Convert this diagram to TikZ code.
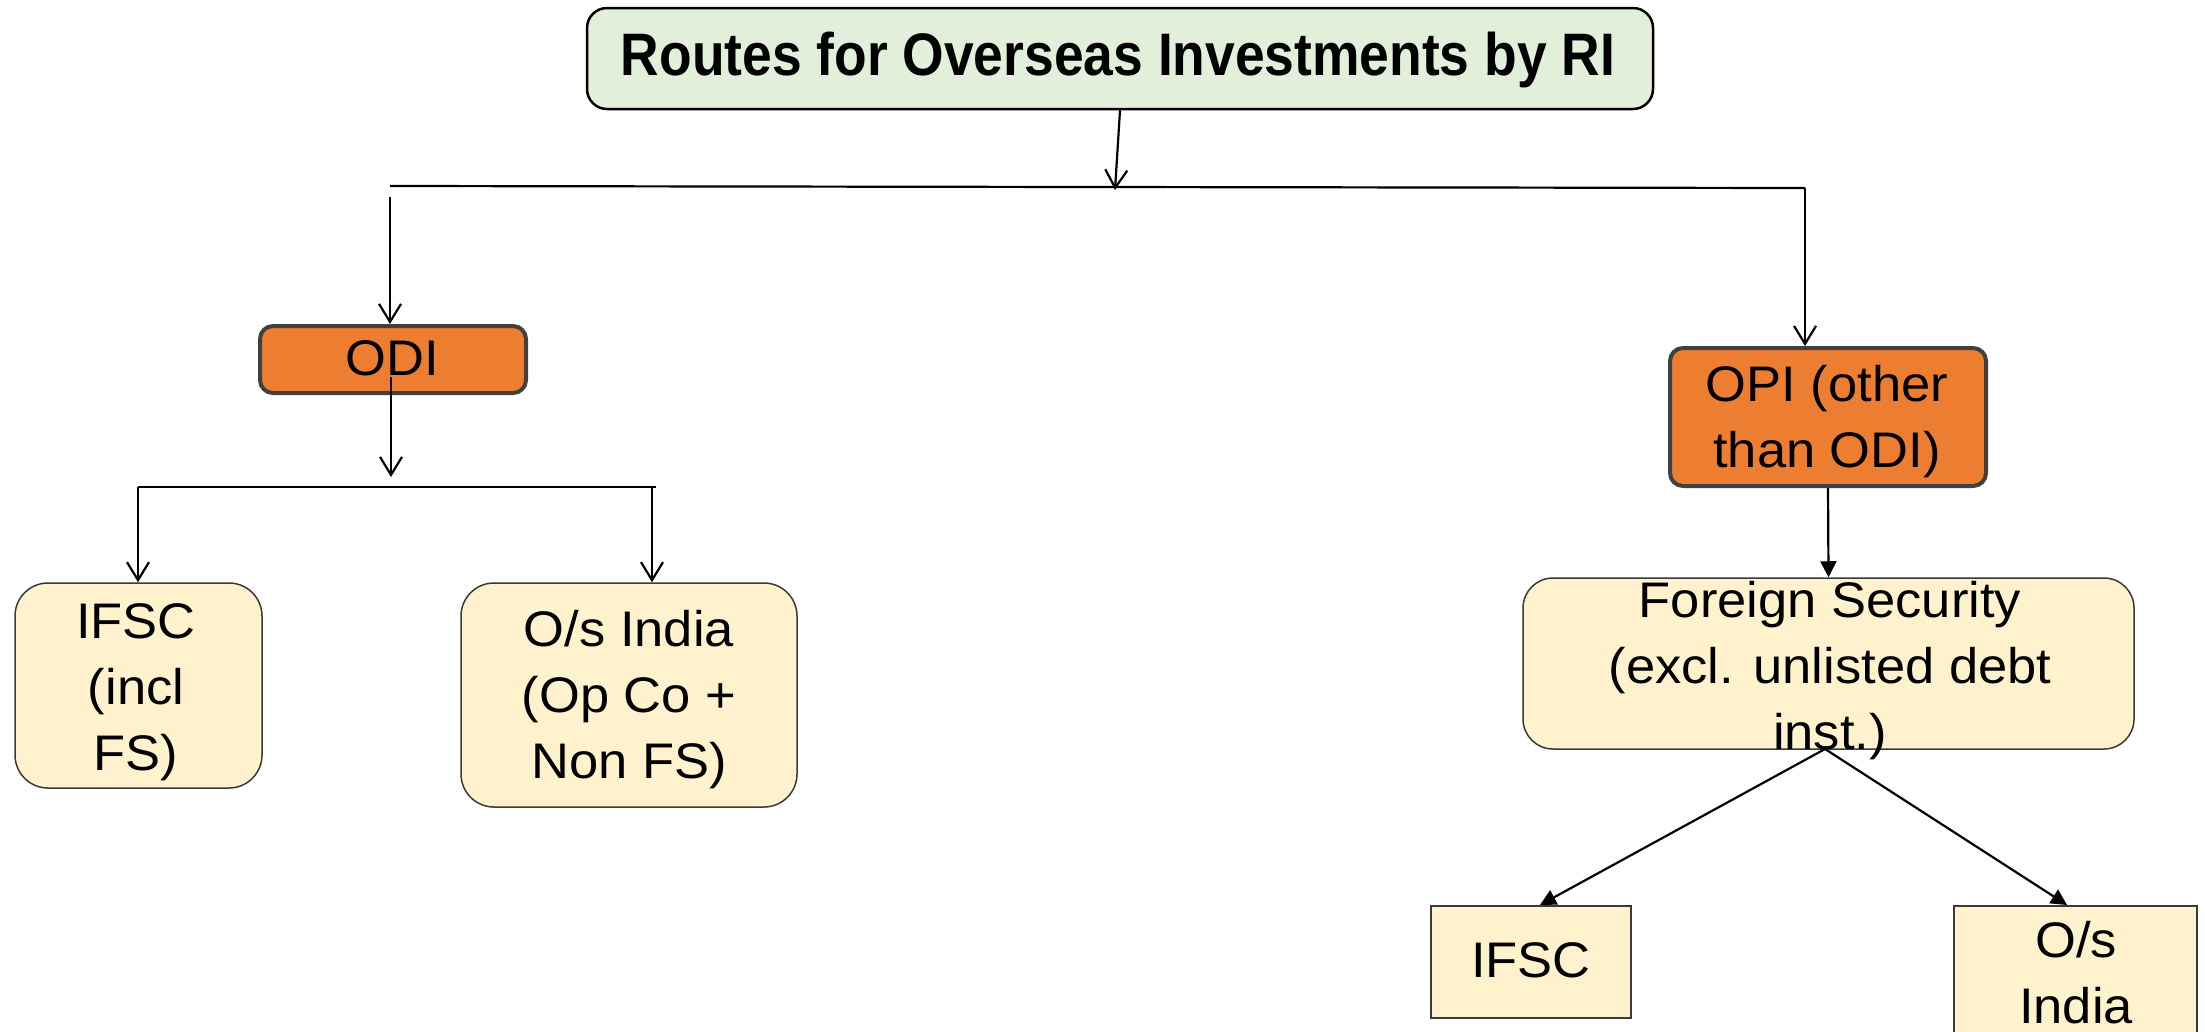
\documentclass[tikz,border=0pt]{standalone}
\usepackage{fontspec}
\setmainfont[FakeStretch=1.05]{Liberation Sans}
\newfontfamily\titlefont[FakeStretch=0.89]{Liberation Sans}
\usetikzlibrary{arrows.meta}
\definecolor{titlegreen}{HTML}{E2EFDA}
\definecolor{odiorange}{HTML}{ED7D31}
\definecolor{boxyellow}{HTML}{FFF2CC}
\definecolor{darkborder}{HTML}{404040}
\definecolor{thinborder}{HTML}{3A3A3A}
\begin{document}
\begin{tikzpicture}[x=1pt,y=-1pt,
  titlebox/.style={draw=black, line width=2.5pt, fill=titlegreen, rounded corners=20pt, inner sep=0pt},
  orangebox/.style={draw=darkborder, line width=4pt, fill=odiorange, rounded corners=13pt, inner sep=0pt},
  yellowbox/.style={draw=thinborder, line width=1.5pt, fill=boxyellow, rounded corners=33pt, inner sep=0pt},
  squarebox/.style={draw=thinborder, line width=1.5pt, fill=boxyellow, inner sep=0pt},
  bodytext/.style={font=\fontsize{50}{66}\selectfont, align=center, inner sep=0pt, anchor=north},
  headtext/.style={font=\titlefont\bfseries\fontsize{60}{70}\selectfont, inner sep=0pt, anchor=north},
  conn/.style={line width=2.2pt, draw=black},
  openarrow/.style={conn, -{Straight Barb[length=18pt, width=22pt]}},
  filledarrow/.style={conn, -{Triangle[length=16pt, width=16pt]}}
]
\clip (0,0) rectangle (2205,1031);
\fill[white] (0,0) rectangle (2205,1031);

% boxes
\node[titlebox, minimum width=1066pt, minimum height=101pt] (title) at (1120,58.5) {};
\node[orangebox, minimum width=266pt, minimum height=67pt] (odi) at (393,359.5) {};
\node[yellowbox, minimum width=247pt, minimum height=205pt] (ifsc) at (138.5,685.5) {};
\node[yellowbox, minimum width=336pt, minimum height=224pt] (osi) at (629,695) {};
\node[orangebox, minimum width=316pt, minimum height=138pt] (opi) at (1828,417) {};
\node[yellowbox, rounded corners=30pt, minimum width=611pt, minimum height=171pt] (fs) at (1828.5,663.5) {};
\node[squarebox, minimum width=200pt, minimum height=112pt] (ifscb) at (1531,962) {};
\node[squarebox, minimum width=243pt, minimum height=154pt] (osib) at (2075.5,983) {};

% texts
\node[headtext] (titletxt) at (1118,32) {Routes for Overseas Investments by RI};
\node[bodytext] (oditxt) at (392,340) {ODI};
\node[bodytext] (ifsctxt) at (136,603) {IFSC\\(incl\\FS)};
\node[bodytext] (ositxt) at (629,610) {O/s India\\(Op Co +\\Non FS)};
\node[bodytext] (opitxt) at (1827,365) {OPI (other\\than ODI)};
\node[bodytext] (fstxt) at (1830,581) {Foreign Security\\(excl. unlisted debt\\inst.)};
\node[bodytext] (ifscbtxt) at (1531,942) {IFSC};
\node[bodytext] (osibtxt) at (2076,921) {O/s\\India};

% connector points
\coordinate (hub) at (1115,190);
\coordinate (barL) at (390,186);
\coordinate (barR) at (1805,188);
\coordinate (odiStart) at (390,197);
\coordinate (odiOut) at (391,377);
\coordinate (odiHub) at (391,477);
\coordinate (subL) at (138,487);
\coordinate (subR) at (656,487);
\coordinate (subR2) at (652,487);
\coordinate (fsOut) at (1825,749);
\coordinate (ifscbIn) at (1540,905);
\coordinate (osibIn) at (2067,905);

% connectors
\draw[openarrow] (title.south) -- (hub);
\draw[conn] (barL) -- (barR);
\draw[openarrow] (odiStart) -- (odiStart |- odi.north);
\draw[openarrow] (barR) -- (barR |- opi.north);
\draw[openarrow] (odiOut) -- (odiHub);
\draw[conn] (subL) -- (subR);
\draw[openarrow] (subL) -- (subL |- ifsc.north);
\draw[openarrow] (subR2) -- (subR2 |- osi.north);
\draw[filledarrow] (opi.south) -- (fs.north);
\draw[filledarrow] (fsOut) -- (ifscbIn);
\draw[filledarrow] (fsOut) -- (osibIn);
\end{tikzpicture}
\end{document}
